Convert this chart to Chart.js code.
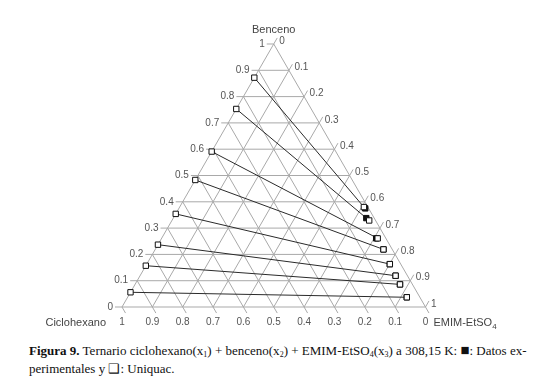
<!DOCTYPE html>
<html>
<head>
<meta charset="utf-8">
<script src="https://cdn.jsdelivr.net/npm/chart.js@4"></script>
<style>
  body { margin: 0; background: #fff; }
  #wrap { position: relative; width: 541px; height: 388px; }
  #chart { position: absolute; left: 0; top: 0; }
  .cap { position: absolute; left: 29px; font-family: "Liberation Serif", "Times New Roman", serif; font-size: 13px; color: #111; white-space: nowrap; }
  #cap1 { top: 343px; }
  #cap2 { top: 361px; }
  sub { font-size: 8px; vertical-align: -2px; }
  .sq { font-size: 15px; line-height: 10px; }
</style>
</head>
<body>
<div id="wrap">
  <canvas id="chart" width="541" height="330"></canvas>
  <div class="cap" id="cap1"><b>Figura 9.</b> Ternario ciclohexano(x<sub>1</sub>) + benceno(x<sub>2</sub>) + EMIM-EtSO<sub>4</sub>(x<sub>3</sub>) a 308,15 K: <span class="sq">■</span>: Datos ex-</div>
  <div class="cap" id="cap2">perimentales y ❑: Uniquac.</div>
</div>
<script>
// fracciones molares: x2 = benceno, x3 = EMIM-EtSO4 (x1 = 1 - x2 - x3)
const tickValues = [0, 0.1, 0.2, 0.3, 0.4, 0.5, 0.6, 0.7, 0.8, 0.9, 1];
const tickLabels = ["0", "0.1", "0.2", "0.3", "0.4", "0.5", "0.6", "0.7", "0.8", "0.9", "1"];

// fase rica en ciclohexano (extremo izquierdo)
const raffBenceno = [0.872, 0.753, 0.591, 0.483, 0.354, 0.237, 0.157, 0.056];
const raffIL = [0, 0, 0, 0, 0, 0, 0, 0];

// fase rica en liquido ionico - Uniquac
const extBenceno = [0.380, 0.329, 0.261, 0.219, 0.163, 0.119, 0.086, 0.037];
const extIL = [0.607, 0.650, 0.712, 0.752, 0.801, 0.842, 0.873, 0.920];

// datos experimentales (cuadros negros)
const expBenceno = [0.375, 0.338, 0.261, 0.219, 0.163, 0.119, 0.086, 0.037];
const expIL = [0.614, 0.636, 0.707, 0.752, 0.801, 0.842, 0.873, 0.920];

const SQ3 = Math.sqrt(3) / 2;
function toXY(x2, x3) {
    return { x: x3 + x2 / 2, y: x2 * SQ3 };
}

// rango de ejes elegido para que el triangulo caiga donde esta en la figura
const xMin = -0.402, xMax = 1.3806;
const yMin = -0.0757, yMax = 1.0109;

// primera linea del pie justificada a 497px
const cap1 = document.getElementById("cap1");
const nSpaces = cap1.textContent.split(" ").length - 1;
const extra = (497 - cap1.getBoundingClientRect().width) / nSpaces;
cap1.style.wordSpacing = Math.max(extra, 0) + "px";

const datasets = [];

// lineas de reparto
for (let i = 0; i < raffBenceno.length; i++) {
    datasets.push({
        type: "line",
        data: [toXY(raffBenceno[i], raffIL[i]), toXY(extBenceno[i], extIL[i])],
        borderColor: "#2a2a2a",
        borderWidth: 1,
        pointRadius: 0,
        fill: false,
        order: 3,
    });
}

datasets.push({
    label: "Experimental",
    data: expBenceno.map((b, i) => toXY(b, expIL[i])),
    pointStyle: "rect",
    pointRadius: 3.8,
    backgroundColor: "#111",
    borderColor: "#111",
    borderWidth: 1,
    order: 2,
});

datasets.push({
    label: "Uniquac",
    data: raffBenceno.map((b, i) => toXY(b, raffIL[i]))
        .concat(extBenceno.map((b, i) => toXY(b, extIL[i]))),
    pointStyle: "rect",
    pointRadius: 3.8,
    backgroundColor: "#fff",
    borderColor: "#111",
    borderWidth: 1,
    order: 1,
});

const ternaryGrid = {
    id: "ternaryGrid",
    beforeDatasetsDraw(chart) {
        const ctx = chart.ctx;
        const sx = chart.scales.x, sy = chart.scales.y;
        const px = (x2, x3) => {
            const p = toXY(x2, x3);
            return { x: sx.getPixelForValue(p.x), y: sy.getPixelForValue(p.y) };
        };
        const tick = 7;
        const cs = 0.5, sn = SQ3;

        ctx.save();
        ctx.strokeStyle = "#a9a9a9";
        ctx.lineWidth = 1;
        ctx.beginPath();
        tickValues.forEach((v) => {
            // x2 constante (horizontal), marca hacia la izquierda
            let a = px(v, 0), b = px(v, 1 - v);
            ctx.moveTo(a.x - tick, a.y);
            ctx.lineTo(b.x, b.y);
            // x3 constante, marca hacia arriba-derecha
            a = px(0, v); b = px(1 - v, v);
            ctx.moveTo(a.x, a.y);
            ctx.lineTo(b.x + tick * cs, b.y - tick * sn);
            // x1 constante, marca hacia abajo-derecha
            a = px(1 - v, 0); b = px(0, 1 - v);
            ctx.moveTo(a.x, a.y);
            ctx.lineTo(b.x + tick * cs, b.y + tick * sn);
        });
        ctx.stroke();

        ctx.fillStyle = "#555";
        ctx.font = "10px 'Liberation Sans', Arial, sans-serif";
        ctx.textBaseline = "middle";
        tickValues.forEach((v, i) => {
            const lab = tickLabels[i];
            // benceno (lado izquierdo)
            let p = px(v, 0);
            ctx.textAlign = "right";
            ctx.fillText(lab, p.x - tick - 2, p.y);
            // EMIM-EtSO4 (lado derecho)
            p = px(1 - v, v);
            ctx.textAlign = "left";
            ctx.fillText(lab, p.x + tick * cs + 2, p.y - tick * sn + 3);
            // ciclohexano (base)
            p = px(0, 1 - v);
            ctx.textAlign = "center";
            ctx.fillText(lab, p.x, p.y + 15);
        });

        ctx.font = "11px 'Liberation Sans', Arial, sans-serif";
        ctx.fillStyle = "#444";
        const top = px(1, 0), left = px(0, 0), right = px(0, 1);
        ctx.textAlign = "center";
        ctx.fillText("Benceno", top.x, top.y - 14);
        ctx.textAlign = "right";
        ctx.fillText("Ciclohexano", left.x - 16, left.y + 16);
        ctx.textAlign = "left";
        ctx.fillText("EMIM-EtSO", right.x + 8, right.y + 16);
        const w = ctx.measureText("EMIM-EtSO").width;
        ctx.font = "8px 'Liberation Sans', Arial, sans-serif";
        ctx.fillText("4", right.x + 8 + w, right.y + 20);
        ctx.restore();
    },
};

new Chart(document.getElementById("chart").getContext("2d"), {
    type: "scatter",
    data: { datasets },
    options: {
        responsive: false,
        animation: false,
        layout: { padding: 0, autoPadding: false },
        plugins: {
            legend: { display: false },
            tooltip: { enabled: false },
        },
        scales: {
            x: { type: "linear", min: xMin, max: xMax, display: false },
            y: { type: "linear", min: yMin, max: yMax, display: false },
        },
    },
    plugins: [ternaryGrid],
});
</script>
</body>
</html>
